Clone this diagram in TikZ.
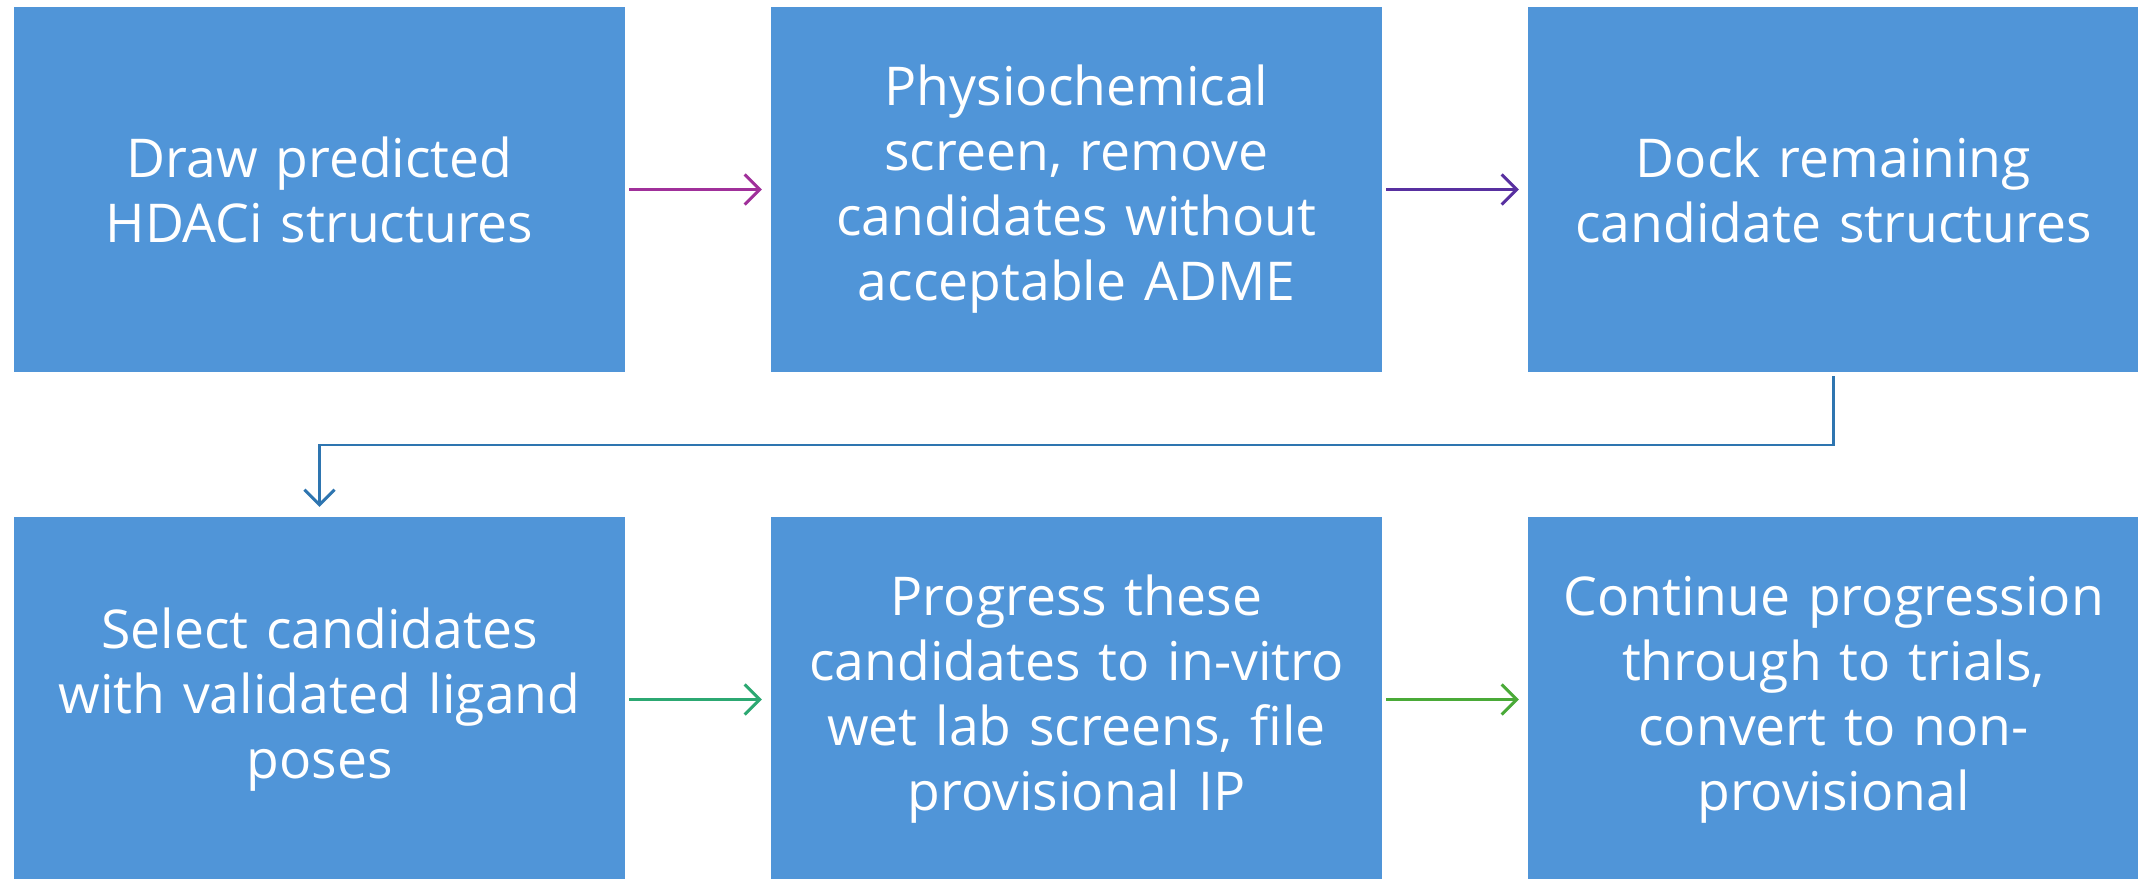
\documentclass[tikz,border=0pt]{standalone}
\usepackage{fontspec}
\setmainfont{Open Sans}
\usetikzlibrary{arrows.meta}
\definecolor{boxblue}{RGB}{80,149,216}
\definecolor{amag}{RGB}{160,48,154}
\definecolor{apur}{RGB}{88,48,160}
\definecolor{ateal}{RGB}{44,168,114}
\definecolor{agreen}{RGB}{74,170,56}
\definecolor{ablue}{RGB}{46,117,176}
\tikzset{
  stepbox/.style={fill=boxblue, draw=none, minimum width=611pt, minimum height=365pt,
    text width=595pt, align=center, text=white, inner sep=0pt,
    font=\fontsize{53.5}{65}\selectfont},
  flowarrow/.style={line width=3pt, -{Straight Barb[length=15pt,width=30pt,line width=3pt]}}
}
\begin{document}
\begin{tikzpicture}[x=1pt,y=-1pt]
\useasboundingbox (0,0) rectangle (2138,878);
\node[stepbox] (b1) at (319.5,189.5) {Draw predicted\\HDACi structures};
\node[stepbox] (b2) at (1076.5,189.5) {Physiochemical\\screen, remove\\candidates without\\acceptable ADME};
\node[stepbox] (b3) at (1833.5,189.5) {Dock remaining\\candidate structures};
\node[stepbox] (b4) at (319.5,699.5) {Select candidates\\with validated ligand\\poses};
\node[stepbox] (b5) at (1076.5,699.5) {Progress these\\candidates to in-vitro\\wet lab screens, file\\provisional IP};
\node[stepbox] (b6) at (1833.5,699.5) {Continue progression\\through to trials,\\convert to non-\\provisional};
\draw[flowarrow, amag] ([xshift=4pt]b1.east) -- ([xshift=-9pt]b2.west);
\draw[flowarrow, apur] ([xshift=4pt]b2.east) -- ([xshift=-9pt]b3.west);
\draw[flowarrow, ateal] ([xshift=4pt]b4.east) -- ([xshift=-9pt]b5.west);
\draw[flowarrow, agreen] ([xshift=4pt]b5.east) -- ([xshift=-9pt]b6.west);
\coordinate (mid) at (0,445);
\draw[flowarrow, ablue, line width=2.5pt] ([yshift=-4pt]b3.south) |- (mid -| b4.north) -- ([yshift=10pt]b4.north);
\end{tikzpicture}
\end{document}
